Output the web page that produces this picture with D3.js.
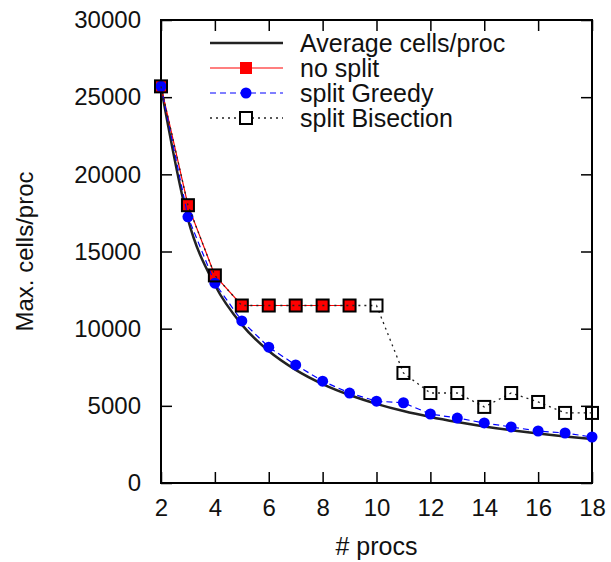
<!DOCTYPE html>
<html>
<head>
<meta charset="utf-8">
<script src="https://cdn.jsdelivr.net/npm/d3@7"></script>
<style>
  body { margin: 0; background: #fff; }
  text { font-family: "Liberation Sans", Arial, sans-serif; fill: #111; }
</style>
</head>
<body>
<svg id="chart" width="611" height="562"></svg>
<script>
// Données
var procs = [2, 3, 4, 5, 6, 7, 8, 9, 10, 11, 12, 13, 14, 15, 16, 17, 18]
var average = [25650, 17100, 12830, 10260, 8550, 7330, 6410, 5700, 5130, 4660, 4275, 3950, 3665, 3420, 3205, 3020, 2850]
var noSplitProcs = [2, 3, 4, 5, 6, 7, 8, 9]
var noSplit = [25700, 18000, 13450, 11500, 11500, 11500, 11500, 11500]
var greedy = [25700, 17250, 12950, 10500, 8800, 7650, 6600, 5830, 5300, 5200, 4470, 4210, 3890, 3630, 3370, 3240, 2980]
var bisection = [25700, 18000, 13450, 11500, 11500, 11500, 11500, 11500, 11500, 7130, 5830, 5830, 4930, 5830, 5250, 4540, 4540]
var xTicks = [2, 4, 6, 8, 10, 12, 14, 16, 18]
var yTicks = [0, 5000, 10000, 15000, 20000, 25000, 30000]
var legendLabels = ['Average cells/proc', 'no split', 'split Greedy', 'split Bisection']

var margin = { top: 20, right: 19, bottom: 79, left: 161 }
var width = 611
var height = 562
var graphWidth = width - margin.left - margin.right
var graphHeight = height - margin.top - margin.bottom

var svg = d3.select('#chart')
var graph = svg.append('g')
  .attr('transform', 'translate(' + margin.left + ',' + margin.top + ')')

var x = d3.scaleLinear().domain([2, 18]).range([0, graphWidth])
var y = d3.scaleLinear().domain([0, 30000]).range([graphHeight, 0])

function pairs (xs, ys) {
  return xs.map(function (d, i) { return [d, ys[i]] })
}

var line = d3.line()
  .x(function (d) { return x(d[0]) })
  .y(function (d) { return y(d[1]) })

// Axes (ticks intérieurs, en miroir)
var tickLen = 11
graph.append('g')
  .attr('transform', 'translate(0,' + graphHeight + ')')
  .call(d3.axisBottom(x).tickValues(xTicks).tickSize(-tickLen).tickPadding(tickLen + 5).tickFormat(d3.format('d')))
graph.append('g')
  .call(d3.axisTop(x).tickValues(xTicks).tickSize(-tickLen).tickFormat(''))
graph.append('g')
  .call(d3.axisLeft(y).tickValues(yTicks).tickSize(-tickLen).tickPadding(tickLen + 9).tickFormat(d3.format('d')))
graph.append('g')
  .attr('transform', 'translate(' + graphWidth + ',0)')
  .call(d3.axisRight(y).tickValues(yTicks).tickSize(-tickLen).tickFormat(''))

graph.selectAll('.domain').remove()
graph.selectAll('.tick line').attr('stroke', '#000').attr('stroke-width', 1.5)
graph.selectAll('.tick text').attr('font-size', 24).attr('fill', '#111')

graph.append('rect')
  .attr('width', graphWidth)
  .attr('height', graphHeight)
  .attr('fill', 'none')
  .attr('stroke', '#000')
  .attr('stroke-width', 2)

// Courbes
graph.append('path')
  .datum(pairs(procs, average))
  .attr('d', line.curve(d3.curveMonotoneX))
  .attr('fill', 'none')
  .attr('stroke', '#222')
  .attr('stroke-width', 2.5)
line.curve(d3.curveLinear)

graph.append('path')
  .datum(pairs(noSplitProcs, noSplit))
  .attr('d', line)
  .attr('fill', 'none')
  .attr('stroke', '#ff0000')
  .attr('stroke-width', 1.2)
graph.selectAll('.ns')
  .data(pairs(noSplitProcs, noSplit))
  .enter().append('rect')
  .attr('x', function (d) { return x(d[0]) - 6 })
  .attr('y', function (d) { return y(d[1]) - 6 })
  .attr('width', 12).attr('height', 12)
  .attr('fill', '#ff0000')

graph.append('path')
  .datum(pairs(procs, greedy))
  .attr('d', line)
  .attr('fill', 'none')
  .attr('stroke', '#0000ff')
  .attr('stroke-width', 1.2)
  .attr('stroke-dasharray', '6,4')
graph.selectAll('.gr')
  .data(pairs(procs, greedy))
  .enter().append('circle')
  .attr('cx', function (d) { return x(d[0]) })
  .attr('cy', function (d) { return y(d[1]) })
  .attr('r', 5.5)
  .attr('fill', '#0000ff')

graph.append('path')
  .datum(pairs(procs, bisection))
  .attr('d', line)
  .attr('fill', 'none')
  .attr('stroke', '#222')
  .attr('stroke-width', 1.3)
  .attr('stroke-dasharray', '2,4')
graph.selectAll('.bi')
  .data(pairs(procs, bisection))
  .enter().append('rect')
  .attr('x', function (d) { return x(d[0]) - 6 })
  .attr('y', function (d) { return y(d[1]) - 6 })
  .attr('width', 12).attr('height', 12)
  .attr('fill', 'none')
  .attr('stroke', '#000')
  .attr('stroke-width', 2)

// Légende
var legend = svg.append('g').attr('class', 'legend')
legendLabels.forEach(function (label, i) {
  var ly = 43 + i * 25
  var item = legend.append('g').attr('transform', 'translate(0,' + ly + ')')
  var ln = item.append('line').attr('x1', 210).attr('x2', 283).attr('y1', 0).attr('y2', 0)
  if (i === 0) {
    ln.attr('stroke', '#222').attr('stroke-width', 2.5)
  } else if (i === 1) {
    ln.attr('stroke', '#ff0000').attr('stroke-width', 1.2)
    item.append('rect').attr('x', 240).attr('y', -6).attr('width', 12).attr('height', 12).attr('fill', '#ff0000')
  } else if (i === 2) {
    ln.attr('stroke', '#0000ff').attr('stroke-width', 1.2).attr('stroke-dasharray', '6,4')
    item.append('circle').attr('cx', 246).attr('cy', 0).attr('r', 5.5).attr('fill', '#0000ff')
  } else {
    ln.attr('stroke', '#222').attr('stroke-width', 1.3).attr('stroke-dasharray', '2,4')
    item.append('rect').attr('x', 240).attr('y', -6).attr('width', 12).attr('height', 12)
      .attr('fill', '#fff').attr('stroke', '#000').attr('stroke-width', 2)
  }
  item.append('text')
    .attr('x', 300).attr('y', 0).attr('dy', '0.35em')
    .attr('font-size', 25)
    .text(label)
})

// Titres des axes
svg.append('text')
  .attr('x', margin.left + graphWidth / 2)
  .attr('y', 555)
  .attr('text-anchor', 'middle')
  .attr('font-size', 25)
  .text('# procs')
svg.append('text')
  .attr('transform', 'translate(33,' + (margin.top + graphHeight / 2) + ') rotate(-90)')
  .attr('text-anchor', 'middle')
  .attr('font-size', 24)
  .text('Max. cells/proc')
</script>
</body>
</html>
